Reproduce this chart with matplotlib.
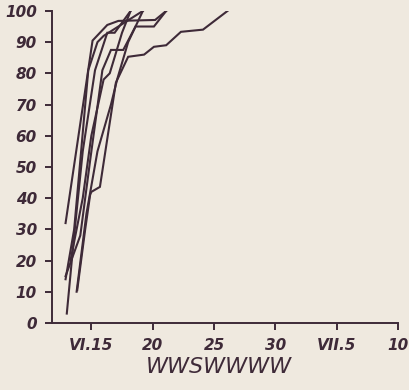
import matplotlib
matplotlib.use("Agg")
import matplotlib.pyplot as plt

# days counted from June 1 (VII.5 = 35, VII.10 = 40); values in percent
x_ticks = [15, 20, 25, 30, 35, 40]
x_labels = ["VI.15", "20", "25", "30", "VII.5", "10"]
y_ticks = [0, 10, 20, 30, 40, 50, 60, 70, 80, 90, 100]

line1_days = [12.9, 15.1, 16.3, 17.2, 20.2, 21.1]
line1_vals = [32, 90.5, 95.5, 96.8, 97.1, 100]

line2_days = [13.85, 14.5, 14.9, 15.0, 15.7, 17.0, 18.0, 19.3, 20.1, 21.1, 22.3, 24.1, 26.1]
line2_vals = [10.5, 30, 41, 42, 43.6, 77, 85.3, 86, 88.5, 89, 93.3, 94, 100]

line3_days = [13.0, 13.6, 14.3, 15.3, 16.3, 16.9, 18.2]
line3_vals = [3, 28, 55, 81, 93, 93, 100]

line4_days = [12.9, 13.6, 14.1, 14.75, 15.5, 16.0, 17.2, 19.2]
line4_vals = [14, 30, 52, 81, 90, 92, 95, 100]

line5_days = [12.9, 14.1, 14.9, 15.9, 16.6, 17.6, 18.6, 20.1, 21.1]
line5_vals = [15, 28, 52, 81, 87.5, 87.5, 95, 95, 100]

line6_days = [13.3, 14.3, 15.0, 16.0, 16.5, 17.5, 18.2]
line6_vals = [20, 40, 60, 78, 80, 93, 100]

line7_days = [13.8, 14.6, 15.5, 16.6, 17.1, 18.0, 19.2]
line7_vals = [10, 35, 55, 70, 78, 90, 100]

lines = [
    (line1_days, line1_vals),
    (line2_days, line2_vals),
    (line3_days, line3_vals),
    (line4_days, line4_vals),
    (line5_days, line5_vals),
    (line6_days, line6_vals),
    (line7_days, line7_vals),
]

bg = "#efe9df"
ink = "#3e2a38"

fig = plt.figure(figsize=(4.1, 3.9), dpi=100)
fig.patch.set_facecolor(bg)
ax = fig.add_axes([0.127, 0.172, 0.844, 0.8])
ax.set_facecolor(bg)

for d, v in lines:
    ax.plot(d, v, color=ink, linewidth=1.5, solid_joinstyle="miter")

ax.set_xlim(11.8, 40)
ax.set_ylim(0, 100)
for side in ("top", "right"):
    ax.spines[side].set_visible(False)
for side in ("left", "bottom"):
    ax.spines[side].set_color(ink)
    ax.spines[side].set_linewidth(1.4)

ax.set_yticks(y_ticks)
ax.set_yticklabels([str(t) for t in y_ticks])
ax.set_xticks(x_ticks)
ax.set_xticklabels(x_labels)
ax.tick_params(axis="both", colors=ink, direction="out", length=5, width=1.4)
ax.tick_params(axis="y", pad=6)
ax.tick_params(axis="x", pad=6)
for lab in ax.get_yticklabels() + ax.get_xticklabels():
    lab.set_fontstyle("italic")
    lab.set_fontweight("bold")
    lab.set_fontsize(11)
    lab.set_color(ink)
    lab.set_fontfamily("DejaVu Sans")

fig.text(0.535, 0.06, "WWSWWWW", ha="center", va="center", fontsize=16,
         fontstyle="italic", color=ink, family="DejaVu Sans")

fig.savefig("out.png", dpi=100, facecolor=bg)
